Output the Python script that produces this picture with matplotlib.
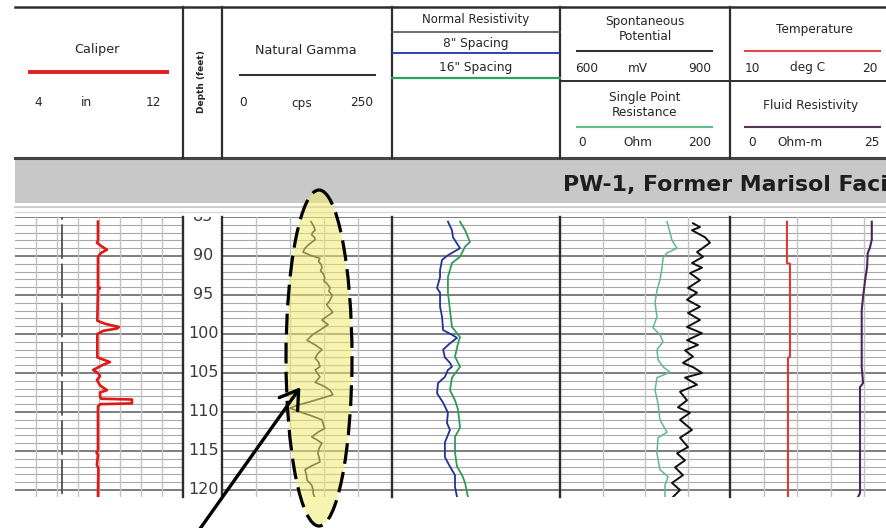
import matplotlib
matplotlib.use("Agg")
import matplotlib.pyplot as plt
from matplotlib.patches import Ellipse, FancyArrowPatch, Rectangle

# ---------------------------------------------------------------- log data
# Caliper (in)
caliper_depth = [85.6, 88.0, 88.3, 88.8, 89.2, 89.6, 90.1, 94.0, 94.1, 94.3,
                 98.3, 98.7, 99.1, 99.3, 99.6, 100.0, 103.0, 103.6, 104.0,
                 104.3, 104.6, 105.0, 105.4, 105.9, 106.6, 107.2, 107.5, 108.0,
                 108.3, 108.4, 108.9, 109.0, 109.3, 115.0, 115.2, 115.5, 116.8,
                 117.2, 120.9]
caliper_in = [7.95, 7.95, 7.90, 8.15, 8.38, 8.10, 7.95, 7.95, 8.05, 7.95,
              7.92, 8.30, 8.95, 8.85, 8.20, 7.92, 7.92, 8.52, 8.15,
              7.95, 7.72, 7.95, 8.05, 7.90, 8.05, 8.38, 8.05, 8.05,
              8.10, 9.57, 9.57, 8.05, 7.95, 7.95, 7.88, 7.95, 7.90,
              7.97, 7.95]
bit_size_in = 6.25

# Natural gamma (cps)
gamma_depth = [85.6, 86.2, 86.7, 87.0, 87.3, 87.6, 87.9, 88.5, 89.0, 89.5,
               89.9, 90.3, 90.7, 91.1, 91.5, 91.9, 92.3, 92.8, 93.2, 93.6,
               94.1, 94.5, 95.0, 95.3, 95.8, 96.2, 96.5, 97.2, 97.7, 98.2,
               98.8, 99.5, 100.1, 100.8, 101.4, 102.0, 102.5, 103.1, 103.6,
               104.2, 104.6, 105.0, 105.5, 106.2, 106.7, 107.2, 107.8, 108.2,
               108.7, 109.1, 109.5, 110.0, 110.5, 111.0, 111.6, 112.1, 112.6,
               113.2, 113.6, 114.0, 114.6, 115.3, 115.9, 116.4, 116.9, 117.4,
               118.0, 118.7, 119.4, 120.0, 120.4, 120.9]
gamma_cps = [131, 135, 137, 133, 132, 136, 137, 128, 122, 119,
             130, 144, 142, 146, 147, 145, 149, 151, 150, 155,
             159, 157, 162, 161, 158, 154, 156, 163, 155, 147,
             156, 144, 133, 125, 137, 147, 141, 137, 142,
             144, 137, 140, 144, 137, 150, 159, 163, 148,
             129, 112, 100, 115, 132, 147, 149, 151, 141,
             132, 140, 147, 143, 141, 143, 144, 132, 122,
             124, 125, 132, 134, 134, 136]

# Normal resistivity, 8" spacing (ohm-m)
res8_depth = [85.6, 86.7, 87.6, 89.0, 89.9, 90.5, 91.8, 92.7, 94.1, 94.7,
              96.5, 97.8, 99.5, 100.1, 100.5, 101.2, 102.0, 103.0, 103.7,
              104.2, 104.6, 105.5, 106.3, 107.6, 108.8, 110.1, 111.4, 112.3,
              113.9, 115.8, 117.0, 118.1, 119.6, 120.9]
res8_ohmm = [33.3, 35.7, 36.3, 40.5, 33.3, 29.8, 28.6, 28.6, 26.8, 28.6,
             28.6, 29.8, 30.4, 35.7, 38.7, 34.5, 30.4, 31.5, 34.5,
             35.7, 33.3, 31.5, 27.4, 26.8, 30.4, 33.3, 32.7, 34.5,
             31.5, 31.5, 34.5, 37.5, 37.5, 38.7]

# Normal resistivity, 16" spacing (ohm-m)
res16_depth = [85.6, 86.7, 88.2, 88.8, 90.1, 90.9, 92.7, 94.7, 96.9, 99.1,
               100.4, 101.2, 102.9, 104.2, 105.6, 107.2, 108.5, 109.7, 112.0,
               113.2, 115.2, 117.0, 118.1, 119.1, 120.9]
res16_ohmm = [40.5, 43.5, 46.4, 43.5, 40.5, 35.7, 33.3, 33.3, 34.5, 35.7,
              40.5, 39.3, 37.5, 40.5, 35.7, 34.5, 37.5, 39.3, 40.5,
              37.5, 37.5, 38.7, 41.7, 43.5, 45.2]

# Spontaneous potential (mV)
sp_depth = [85.8, 86.3, 86.7, 87.6, 88.3, 89.5, 90.1, 90.9, 91.5, 92.2,
            93.1, 94.1, 94.7, 95.6, 96.5, 97.3, 98.2, 99.1, 99.9, 100.8,
            101.4, 102.1, 102.9, 103.7, 104.3, 105.0, 105.6, 106.5, 107.4,
            108.5, 109.4, 110.1, 111.0, 112.3, 113.3, 114.5, 115.3, 116.2,
            117.1, 118.1, 119.1, 120.0, 120.9]
sp_mv = [834.7, 847.0, 832.9, 855.9, 864.7, 841.8, 852.4, 832.9, 850.6, 829.4,
         847.0, 825.9, 841.8, 824.1, 847.0, 825.9, 847.0, 824.1, 850.6, 824.1,
         843.5, 820.6, 834.7, 817.0, 836.0, 850.6, 820.6, 841.8, 811.8,
         824.1, 808.2, 829.4, 811.8, 832.9, 811.8, 825.9, 806.5, 820.6,
         803.0, 817.0, 797.6, 811.8, 799.4]

# Single point resistance (ohm)
spr_depth = [85.6, 87.0, 88.0, 89.0, 89.6, 90.3, 91.5, 93.1, 94.4, 96.0,
             97.8, 99.2, 100.1, 101.0, 102.0, 103.3, 104.2, 104.9, 105.6,
             107.2, 108.9, 111.0, 112.6, 113.3, 115.3, 117.4, 118.3, 119.4,
             120.9]
spr_ohm = [125.9, 129.4, 131.8, 137.6, 125.9, 121.2, 120.0, 117.6, 114.1, 111.8,
           114.1, 109.4, 117.6, 121.2, 114.1, 115.3, 121.2, 129.4, 114.1,
           111.8, 115.3, 117.6, 125.9, 115.3, 114.1, 117.6, 127.1, 123.5,
           123.5]

# Temperature (deg C)
temp_depth = [85.6, 90.9, 91.0, 102.9, 103.1, 120.9]
temp_c = [13.39, 13.39, 13.57, 13.57, 13.45, 13.45]

# Fluid resistivity (ohm-m)
fres_depth = [85.6, 87.9, 89.0, 89.6, 91.4, 93.1, 95.3, 96.9, 104.2, 106.3,
              106.8, 120.4, 120.9]
fres_ohmm = [21.1, 21.1, 20.8, 20.5, 20.4, 20.1, 19.8, 19.6, 19.6, 19.8,
             19.35, 19.35, 19.05]

depth_labels = [85, 90, 95, 100, 105, 110, 115, 120]
well_title = "PW-1, Former Marisol Facility"

# ---------------------------------------------------------------- layout
W, H = 887, 528
TOP_DEPTH, BASE_DEPTH = 85.0, 120.9
TRACK_Y0, TRACK_Y1 = 217, 497
FONT = ["DejaVu Sans"]
plt.rcParams["font.family"] = FONT

fig = plt.figure(figsize=(W / 100, H / 100), dpi=100)
fig.patch.set_facecolor("white")

bg = fig.add_axes([0, 0, 1, 1])
bg.set_xlim(0, W)
bg.set_ylim(H, 0)
bg.axis("off")
bg.set_zorder(0)

DARK = "#2e2e2e"
TXT = "#262626"
HFS = 9.2

# header frame
bg.plot([15, W], [7, 7], color=DARK, lw=1.8)
bg.plot([15, W], [158, 158], color="#444444", lw=2.2)
for xs in (183, 222, 392, 560, 730):
    bg.plot([xs, xs], [7, 158], color=DARK, lw=1.6)
bg.plot([392, 560], [32, 32], color="#555555", lw=1.2)
bg.plot([560, W], [81, 81], color=DARK, lw=1.4)

# caliper header
bg.text(97, 50, "Caliper", ha="center", va="center", fontsize=HFS, color=TXT)
bg.plot([30, 167], [72, 72], color="#e02020", lw=2.8)
for x, s in ((38, "4"), (86, "in"), (153, "12")):
    bg.text(x, 103, s, ha="center", va="center", fontsize=HFS - 0.5, color=TXT)

# depth header
bg.text(202, 82, "Depth (feet)", rotation=90, ha="center", va="center",
        fontsize=6.5, fontweight="bold", color=TXT)

# gamma header
bg.text(306, 50, "Natural Gamma", ha="center", va="center", fontsize=HFS, color=TXT)
bg.plot([240, 375], [75, 75], color="#333333", lw=1.5)
for x, s in ((243, "0"), (302, "cps"), (362, "250")):
    bg.text(x, 103, s, ha="center", va="center", fontsize=HFS - 0.5, color=TXT)

# normal resistivity header
bg.text(476, 20, "Normal Resistivity", ha="center", va="center", fontsize=HFS - 0.7, color=TXT)
bg.text(476, 43, "8\" Spacing", ha="center", va="center", fontsize=HFS - 0.5, color=TXT)
bg.plot([392, 560], [53, 53], color="#2035a8", lw=1.3)
bg.text(476, 68, "16\" Spacing", ha="center", va="center", fontsize=HFS - 0.5, color=TXT)
bg.plot([392, 560], [78, 78], color="#34a060", lw=1.6)

# SP / SPR header
bg.text(645, 21, "Spontaneous", ha="center", va="center", fontsize=HFS - 0.5, color=TXT)
bg.text(645, 37, "Potential", ha="center", va="center", fontsize=HFS - 0.5, color=TXT)
bg.plot([577, 712], [51, 51], color="#333333", lw=1.5)
for x, s in ((587, "600"), (638, "mV"), (700, "900")):
    bg.text(x, 68, s, ha="center", va="center", fontsize=HFS - 0.5, color=TXT)
bg.text(645, 97, "Single Point", ha="center", va="center", fontsize=HFS - 0.5, color=TXT)
bg.text(645, 112, "Resistance", ha="center", va="center", fontsize=HFS - 0.5, color=TXT)
bg.plot([577, 712], [127, 127], color="#5cbf8c", lw=1.5)
for x, s in ((582, "0"), (638, "Ohm"), (700, "200")):
    bg.text(x, 142, s, ha="center", va="center", fontsize=HFS - 0.5, color=TXT)

# temperature / fluid resistivity header
bg.text(814, 29, "Temperature", ha="center", va="center", fontsize=HFS - 0.5, color=TXT)
bg.plot([745, 880], [51, 51], color="#e04848", lw=1.5)
for x, s in ((752, "10"), (808, "deg C"), (870, "20")):
    bg.text(x, 68, s, ha="center", va="center", fontsize=HFS - 0.5, color=TXT)
bg.text(811, 105, "Fluid Resistivity", ha="center", va="center", fontsize=HFS - 0.5, color=TXT)
bg.plot([745, 880], [127, 127], color="#553355", lw=1.5)
for x, s in ((752, "0"), (800, "Ohm-m"), (872, "25")):
    bg.text(x, 142, s, ha="center", va="center", fontsize=HFS - 0.5, color=TXT)

# title band
bg.add_patch(Rectangle((15, 159), W - 15, 44, facecolor="#c8c8c8", edgecolor="none"))
bg.plot([15, W], [207, 207], color="#c4c4c4", lw=1.2)
bg.plot([15, W], [212, 212], color="#d6d6d6", lw=1.0)
bg.text(563, 185, well_title, ha="left", va="center", fontsize=15.8,
        fontweight="bold", color="#1e1e1e")

# ---------------------------------------------------------------- tracks
MINOR = "#a8a8a8"
MAJOR = "#5a5a5a"
VGRID = "#c2c2c2"


def track(x0, x1, xlim, vgrid=(), hgrid=True):
    ax = fig.add_axes([x0 / W, 1 - TRACK_Y1 / H, (x1 - x0) / W, (TRACK_Y1 - TRACK_Y0) / H])
    ax.set_xlim(*xlim)
    ax.set_ylim(BASE_DEPTH, TOP_DEPTH)
    ax.axis("off")
    ax.set_zorder(1)
    if hgrid:
        for d in range(85, 121):
            major = d % 5 == 0
            ax.axhline(d, color=MAJOR if major else MINOR,
                       lw=1.1 if major else 0.8, zorder=1)
    for v in vgrid:
        ax.axvline(v, color=VGRID, lw=1.0, zorder=1)
    return ax


ax_cal = track(15, 183, (4, 12), vgrid=range(5, 12))
ax_cal.plot([bit_size_in, bit_size_in], [TOP_DEPTH, BASE_DEPTH], color="#505050",
            lw=1.3, linestyle=(17.6, (19.1, 2.6)), zorder=2)
ax_cal.plot(caliper_in, caliper_depth, color="#e01818", lw=1.9, zorder=3)

ax_dep = track(183, 222, (0, 1), hgrid=False)
for d in depth_labels:
    ax_dep.text(0.52, d, str(d), ha="center", va="center", fontsize=11.5,
                color="#3a3a3a", clip_on=True)

ax_gr = track(222, 392, (0, 250), vgrid=(50, 100, 150, 200))
ax_gr.plot(gamma_cps, gamma_depth, color="#111111", lw=1.2, zorder=3)

ax_res = track(392, 560, (0, 100))
ax_res.plot(res16_ohmm, res16_depth, color="#2e9a5c", lw=1.3, zorder=3)
ax_res.plot(res8_ohmm, res8_depth, color="#22309c", lw=1.3, zorder=3)

ax_sp = track(560, 730, (600, 900), vgrid=(675, 750, 825))
ax_sp.plot(sp_mv, sp_depth, color="#111111", lw=1.4, zorder=3)
ax_spr = ax_sp.twiny()
ax_spr.set_xlim(0, 200)
ax_spr.axis("off")
ax_spr.plot(spr_ohm, spr_depth, color="#5fba8c", lw=1.1, zorder=3)

ax_tmp = track(730, 898, (10, 20), vgrid=(12, 14, 16, 18))
ax_tmp.plot(temp_c, temp_depth, color="#e03838", lw=1.5, zorder=3)
ax_fr = ax_tmp.twiny()
ax_fr.set_xlim(0, 25)
ax_fr.axis("off")
ax_fr.plot(fres_ohmm, fres_depth, color="#4a2560", lw=1.5, zorder=3)

# track borders
brd = fig.add_axes([0, 0, 1, 1])
brd.set_xlim(0, W)
brd.set_ylim(H, 0)
brd.axis("off")
brd.set_zorder(2)
for xs in (183, 222, 392, 560, 730):
    brd.plot([xs, xs], [TRACK_Y0, TRACK_Y1], color=DARK, lw=1.7)

# ---------------------------------------------------------------- highlight
ov = fig.add_axes([0, 0, 1, 1])
ov.set_xlim(0, W)
ov.set_ylim(H, 0)
ov.axis("off")
ov.set_zorder(3)
ov.add_patch(Ellipse((319, 358), 66, 336, facecolor="#f2ea70", alpha=0.55,
                     edgecolor="none"))
ov.add_patch(Ellipse((319, 358), 66, 336, fill=False, edgecolor="black",
                     lw=2.3, linestyle=(0, (6.5, 2.6))))
ov.add_patch(FancyArrowPatch((197, 533), (302, 385),
                             arrowstyle="->,head_length=0.7,head_width=0.45",
                             mutation_scale=18, lw=2.4, color="black"))

fig.savefig("out.png", dpi=100)
